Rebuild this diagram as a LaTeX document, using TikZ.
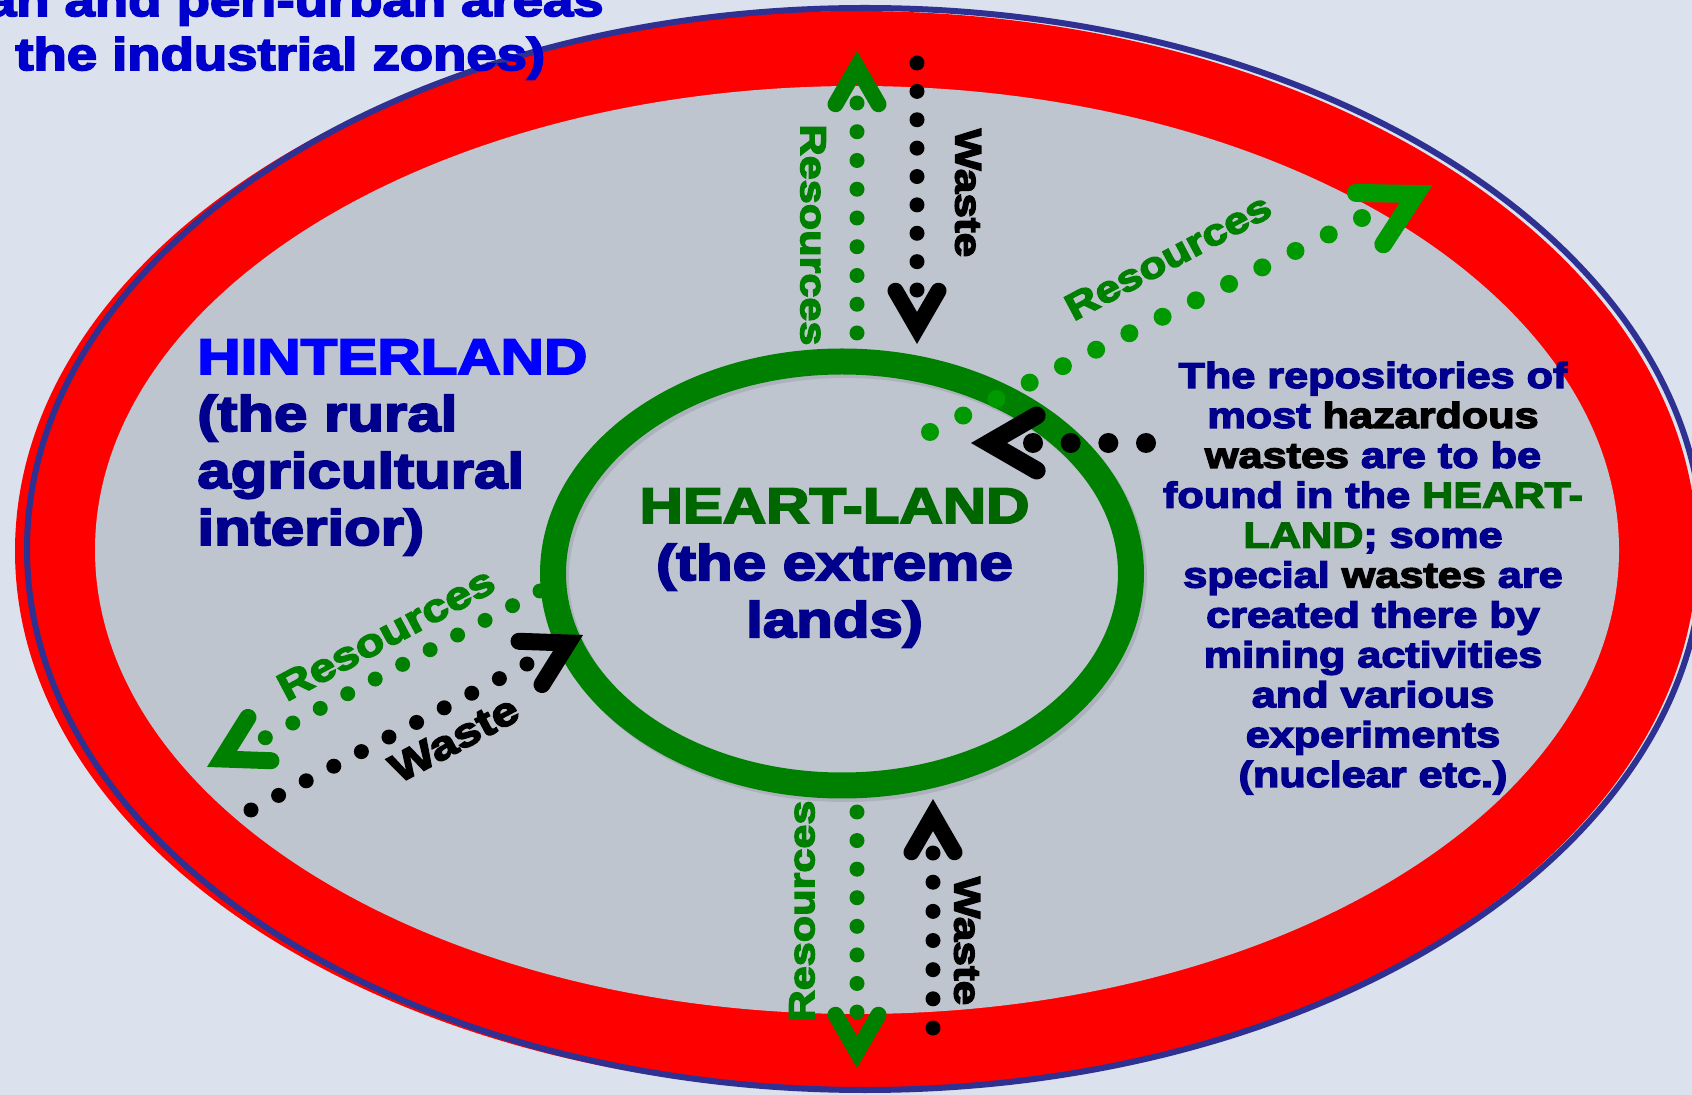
\documentclass[tikz,border=0pt]{standalone}
\usepackage{fontspec}
\usetikzlibrary{calc}
\newfontfamily\heavy[FakeStretch=1.2,FakeBold=4]{Liberation Sans Bold}

\definecolor{bgc}{RGB}{219,225,237}
\definecolor{innergray}{RGB}{191,197,206}
\definecolor{ringred}{RGB}{255,0,0}
\definecolor{rimnavy}{RGB}{46,49,146}
\definecolor{ringgreen}{RGB}{0,128,0}
\definecolor{ringshade}{RGB}{172,178,188}
\definecolor{brightgreen}{RGB}{0,153,0}
\definecolor{heartgreen}{RGB}{0,102,0}
\definecolor{hintblue}{RGB}{0,0,255}
\definecolor{navytext}{RGB}{0,0,140}
\definecolor{topblue}{RGB}{0,0,204}

\tikzset{
  bigline/.style={inner sep=0pt, anchor=base, font=\heavy\fontsize{25}{30}\selectfont},
  sideline/.style={inner sep=0pt, anchor=base, text=navytext, font=\heavy\fontsize{18}{20}\selectfont},
  topline/.style={inner sep=0pt, text=topblue, font=\heavy\fontsize{22.7}{27}\selectfont},
  flowlabel/.style={inner sep=0pt, font=\heavy\fontsize{#1}{#1}\selectfont},
  dotrow/.style 2 args={line width=#1, line cap=round, dash pattern=on 0pt off #2},
  chev/.style={line width=#1, line cap=round, line join=miter, miter limit=20}
}

% open arrow head: vertex, back direction, half opening angle, arm length
\newcommand\chevronat[5][]{\draw[#1] (#2) ++(#3+#4:#5) -- (#2) -- ++(#3-#4:#5);}

\begin{document}
\begin{tikzpicture}[x=0.5pt,y=-0.5pt]
\clip (0,0) rectangle (1692,1095);
\fill[bgc] (0,0) rectangle (1692,1095);

% outer red zone with its navy rim, and the grey hinterland
\fill[ringred] (856,551) ellipse [x radius=841, y radius=540];
\draw[rimnavy, line width=3pt] (865,549) ellipse [x radius=838, y radius=541];
\fill[innergray] (857,550) ellipse [x radius=762, y radius=464];

% heart-land ring
\draw[ringshade, line width=13pt] (845,577) ellipse [x radius=289, y radius=212];
\draw[ringgreen, line width=13pt] (842,573.5) ellipse [x radius=289, y radius=212];

% ---- arrow end points ----
\coordinate (rsA) at (857,333);  \coordinate (reA) at (857,102);   \coordinate (rvA) at (857,67);
\coordinate (wsA) at (917,63);   \coordinate (weA) at (917,291);   \coordinate (wvA) at (917,328);
\coordinate (rsB) at (857,812);  \coordinate (reB) at (857,1013);  \coordinate (rvB) at (857,1052);
\coordinate (wsB) at (933,1028); \coordinate (weB) at (933,852);   \coordinate (wvB) at (933,815);
\coordinate (rsC) at (540,591);  \coordinate (reC) at (262,739.5); \coordinate (rvC) at (222,759);
\coordinate (wsC) at (251,810);  \coordinate (weC) at (528,663.5); \coordinate (wvC) at (568,643);
\coordinate (rsD) at (930,432);  \coordinate (reD) at (1363,217.5);\coordinate (rvD) at (1416,194);
\coordinate (wsD) at (1146,443); \coordinate (weD) at (1032,443);  \coordinate (wvD) at (989,443);

% top pair
\draw[ringgreen, dotrow={7.5pt}{14.375pt}] (rsA) -- (reA);
\chevronat[ringgreen, chev=8pt]{rvA}{90}{30}{43}
\draw[black, dotrow={7.5pt}{14.19pt}] (wsA) -- (weA);
\chevronat[black, chev=8pt]{wvA}{270}{30}{43}

% bottom pair
\draw[ringgreen, dotrow={7.5pt}{14.29pt}] (rsB) -- (reB);
\chevronat[ringgreen, chev=8pt]{rvB}{270}{30}{43}
\draw[black, dotrow={7.5pt}{14.58pt}] (wsB) -- (weB);
\chevronat[black, chev=8pt]{wvB}{90}{30}{43}

% left pair
\draw[ringgreen, dotrow={7.5pt}{15.57pt}] (rsC) -- (reC);
\chevronat[ringgreen, chev=8.5pt]{rvC}{-28}{30}{49}
\draw[black, dotrow={7.5pt}{15.61pt}] (wsC) -- (weC);
\chevronat[black, chev=8.5pt]{wvC}{152}{30}{49}

% right pair
\draw[brightgreen, dotrow={9pt}{18.54pt}] (rsD) -- (reD);
\chevronat[brightgreen, chev=9pt]{rvD}{152}{29}{60}
\draw[black, dotrow={10pt}{18.83pt}] (wsD) -- (weD);
\chevronat[black, chev=9pt]{wvD}{0}{30}{55}

% flow labels
\node[flowlabel=18, text=ringgreen, rotate=-90] (labRA) at (813,235) {Resources};
\node[flowlabel=18.4, text=black, rotate=-90] (labWA) at (968,193) {Waste};
\node[flowlabel=18, text=ringgreen, rotate=90] (labRB) at (802,911) {Resources};
\node[flowlabel=18.4, text=black, rotate=-90] (labWB) at (967,941) {Waste};
\node[flowlabel=19.5, text=ringgreen, rotate=28] (labRC) at (386,634) {Resources};
\node[flowlabel=20, text=black, rotate=28] (labWC) at (454,739) {Waste};
\node[flowlabel=18.5, text=ringgreen, rotate=28] (labRD) at (1168,257) {Resources};

% hinterland caption
\node[bigline, anchor=base west, text=hintblue] (hin1) at (197,374) {HINTERLAND};
\node[bigline, anchor=base west, text=navytext] (hin2) at (197,431) {(the rural};
\node[bigline, anchor=base west, text=navytext] (hin3) at (197,488) {agricultural};
\node[bigline, anchor=base west, text=navytext] (hin4) at (197,545) {interior)};

% heart-land caption
\node[bigline, text=heartgreen] (hrt1) at (834.5,523) {HEART-LAND};
\node[bigline, text=navytext] (hrt2) at (834.5,580) {(the extreme};
\node[bigline, text=navytext] (hrt3) at (834.5,637) {lands)};

% note on the repositories
\node[sideline] (s1)  at (1373,388)   {The repositories of};
\node[sideline] (s2)  at (1373,427.9) {most \textcolor{black}{hazardous}};
\node[sideline] (s3)  at (1373,467.8) {\textcolor{black}{wastes} are to be};
\node[sideline] (s4)  at (1373,507.7) {found in the \textcolor{heartgreen}{HEART-}};
\node[sideline] (s5)  at (1373,547.6) {\textcolor{heartgreen}{LAND}; some};
\node[sideline] (s6)  at (1373,587.5) {special \textcolor{black}{wastes} are};
\node[sideline] (s7)  at (1373,627.4) {created there by};
\node[sideline] (s8)  at (1373,667.3) {mining activities};
\node[sideline] (s9)  at (1373,707.2) {and various};
\node[sideline] (s10) at (1373,747.1) {experiments};
\node[sideline] (s11) at (1373,787)   {(nuclear etc.)};

% caption of the outer zone, running off the edge
\node[topline, anchor=base east] (top1) at (604,16) {an and peri-urban areas};
\node[topline, anchor=base west] (top2) at (15,70) {the industrial zones)};
\end{tikzpicture}
\end{document}
